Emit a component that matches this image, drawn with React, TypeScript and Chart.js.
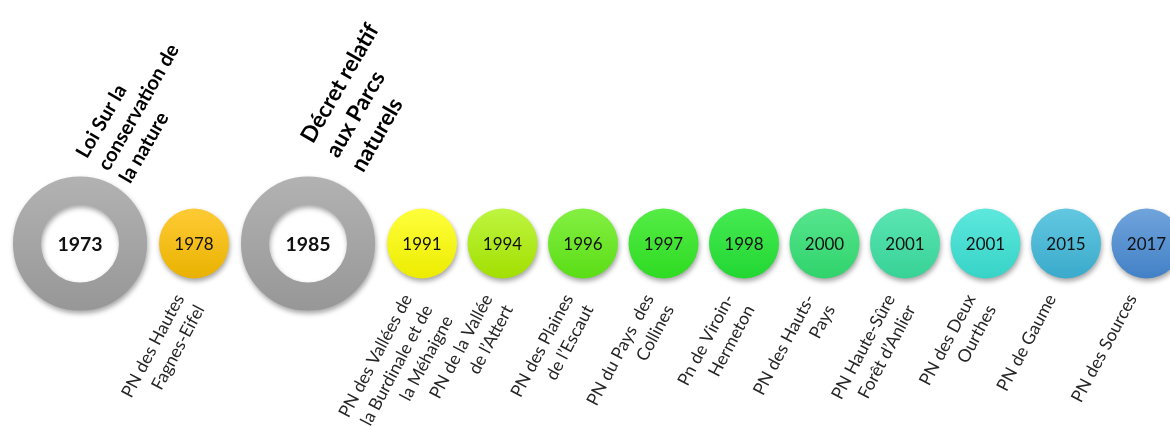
import React, { useEffect, useRef } from 'react';
import { Chart, registerables } from 'chart.js';

Chart.register(...registerables);

// ---------- data ----------
const LAW_YEARS = [1973, 1985];
const LAW_TITLES = [
  ['Loi Sur la', 'conservation de', 'la nature'],
  ['Décret relatif', 'aux Parcs', 'naturels'],
];
const PARK_YEARS = [1978, 1991, 1994, 1996, 1997, 1998, 2000, 2001, 2001, 2015, 2017];
const PARK_NAMES = [
  ['PN des Hautes', 'Fagnes-Eifel'],
  ['PN des Vallées de', 'la Burdinale et de', 'la Méhaigne'],
  ['PN de la Vallée', 'de l’Attert'],
  ['PN des Plaines', 'de l’Escaut'],
  ['PN du Pays  des', 'Collines'],
  ['Pn de Viroin-', 'Hermeton'],
  ['PN des Hauts-', 'Pays'],
  ['PN Haute-Sûre', 'Forêt d’Anlier'],
  ['PN des Deux', 'Ourthes'],
  ['PN de Gaume'],
  ['PN des Sources'],
];

// ---------- styles ----------
const PARK_GRADIENTS: [string, string][] = [
  ['#FFCB35', '#E9B200'],
  ['#FFFF3C', '#ECEC00'],
  ['#BEF540', '#A2DF00'],
  ['#84F042', '#5ADD16'],
  ['#55EC46', '#2EDB22'],
  ['#46EA52', '#22D732'],
  ['#56E58E', '#30D36C'],
  ['#5BE5B3', '#37D296'],
  ['#5DE8DD', '#37D3C7'],
  ['#63C8E1', '#3AAACB'],
  ['#70A4DC', '#4280C6'],
];
// title text-box styles (font size, line height, offset from ring centre)
const LAW_TITLE_STYLE = [
  { size: 20, lh: 25, dx: 7, dy: -84 },
  { size: 22.5, lh: 29, dx: 5, dy: -99 },
];
const W = 1170;
const H = 427;
const CENTER_Y = 243.5;
const RING_OUTER = 67;
const RING_INNER = 39;
const PARK_R = 35;
const FIRST_X = 80;
const GAP_RING = 12;
const GAP_PARK = 10.5;
const FONT = 'Lato, "Open Sans", sans-serif';

type Ev = { kind: 'law' | 'park'; year: number; idx: number; x: number };

function buildEvents(): Ev[] {
  const evs: Ev[] = [
    ...LAW_YEARS.map((y, i) => ({ kind: 'law' as const, year: y, idx: i, x: 0 })),
    ...PARK_YEARS.map((y, i) => ({ kind: 'park' as const, year: y, idx: i, x: 0 })),
  ].sort((a, b) => a.year - b.year);
  const rOf = (e: Ev) => (e.kind === 'law' ? RING_OUTER : PARK_R);
  let x = FIRST_X;
  evs.forEach((e, i) => {
    if (i > 0) {
      const p = evs[i - 1];
      x += rOf(p) + rOf(e) + (p.kind === 'law' || e.kind === 'law' ? GAP_RING : GAP_PARK);
    }
    e.x = x;
  });
  return evs;
}

const shadowPlugin = {
  id: 'circleShadow',
  beforeDatasetDraw(chart: any) {
    const ctx = chart.ctx;
    ctx.save();
    ctx.shadowColor = 'rgba(0,0,0,0.35)';
    ctx.shadowBlur = 5;
    ctx.shadowOffsetX = 1;
    ctx.shadowOffsetY = 3;
  },
  afterDatasetDraw(chart: any) {
    chart.ctx.restore();
  },
};

const labelsPlugin = {
  id: 'timelineLabels',
  afterDatasetsDraw(chart: any) {
    const ctx = chart.ctx;
    const lawMeta = chart.getDatasetMeta(0);
    lawMeta.data.forEach((el: any, i: number) => {
      const { x, y } = el.getProps(['x', 'y'], true);
      const st = LAW_TITLE_STYLE[i] || LAW_TITLE_STYLE[0];
      ctx.save();
      ctx.fillStyle = '#111';
      ctx.font = `bold 19.5px ${FONT}`;
      ctx.textAlign = 'center';
      ctx.textBaseline = 'middle';
      ctx.fillText(String(LAW_YEARS[i]), x, y + 1);
      ctx.translate(x + st.dx, y + st.dy);
      ctx.rotate((-60 * Math.PI) / 180);
      ctx.font = `bold ${st.size}px ${FONT}`;
      ctx.textAlign = 'left';
      ctx.textBaseline = 'alphabetic';
      ctx.fillStyle = '#000';
      LAW_TITLES[i].forEach((line, j) => ctx.fillText(line, 0, j * st.lh));
      ctx.restore();
    });
    const parkMeta = chart.getDatasetMeta(1);
    parkMeta.data.forEach((el: any, i: number) => {
      const { x, y } = el.getProps(['x', 'y'], true);
      ctx.save();
      ctx.fillStyle = '#111';
      ctx.font = `17px ${FONT}`;
      ctx.textAlign = 'center';
      ctx.textBaseline = 'middle';
      ctx.fillText(String(PARK_YEARS[i]), x, y + 1);
      ctx.translate(x - 22, y + 48);
      ctx.rotate((-62 * Math.PI) / 180);
      ctx.font = `17.5px ${FONT}`;
      ctx.textAlign = 'right';
      ctx.textBaseline = 'top';
      ctx.fillStyle = '#262626';
      PARK_NAMES[i].forEach((line, j) => ctx.fillText(line, 0, j * 23));
      ctx.restore();
    });
  },
};

export default function App() {
  const ref = useRef<HTMLCanvasElement | null>(null);
  useEffect(() => {
    if (!ref.current) return;
    const evs = buildEvents();
    const lawData = evs.filter((e) => e.kind === 'law').map((e) => ({ x: e.x, y: 0, r: (RING_OUTER + RING_INNER) / 2 }));
    const parkData = evs.filter((e) => e.kind === 'park').map((e) => ({ x: e.x, y: 0, r: PARK_R }));

    const grad = (c: any, r: number, top: string, bottom: string) => {
      const chart = c.chart;
      if (!chart.chartArea) return top;
      const cy = chart.scales.y.getPixelForValue(0);
      const g = chart.ctx.createLinearGradient(0, cy - r, 0, cy + r);
      g.addColorStop(0, top);
      g.addColorStop(1, bottom);
      return g;
    };

    const chart = new Chart(ref.current, {
      type: 'bubble',
      data: {
        datasets: [
          {
            label: 'Législation',
            data: lawData,
            backgroundColor: '#ffffff',
            borderColor: (c: any) => grad(c, RING_OUTER, '#B2B2B2', '#979797'),
            borderWidth: RING_OUTER - RING_INNER,
            clip: false,
          } as any,
          {
            label: 'Parcs naturels',
            data: parkData,
            backgroundColor: (c: any) => {
              const [t, b] = PARK_GRADIENTS[c.dataIndex] || ['#ccc', '#aaa'];
              return grad(c, PARK_R, t, b);
            },
            borderWidth: 0,
            clip: false,
          } as any,
        ],
      },
      options: {
        animation: false,
        responsive: true,
        maintainAspectRatio: false,
        events: [],
        layout: { padding: 0, autoPadding: false },
        scales: {
          x: { type: 'linear', display: false, min: 0, max: W },
          y: { type: 'linear', display: false, min: -(H - CENTER_Y), max: CENTER_Y },
        },
        plugins: {
          legend: { display: false },
          tooltip: { enabled: false },
        },
      },
      plugins: [shadowPlugin, labelsPlugin],
    } as any);
    return () => chart.destroy();
  }, []);

  return (
    <div style={{ position: 'fixed', left: 0, top: 0, width: W, height: H, background: '#fff' }}>
      <canvas ref={ref} />
    </div>
  );
}
